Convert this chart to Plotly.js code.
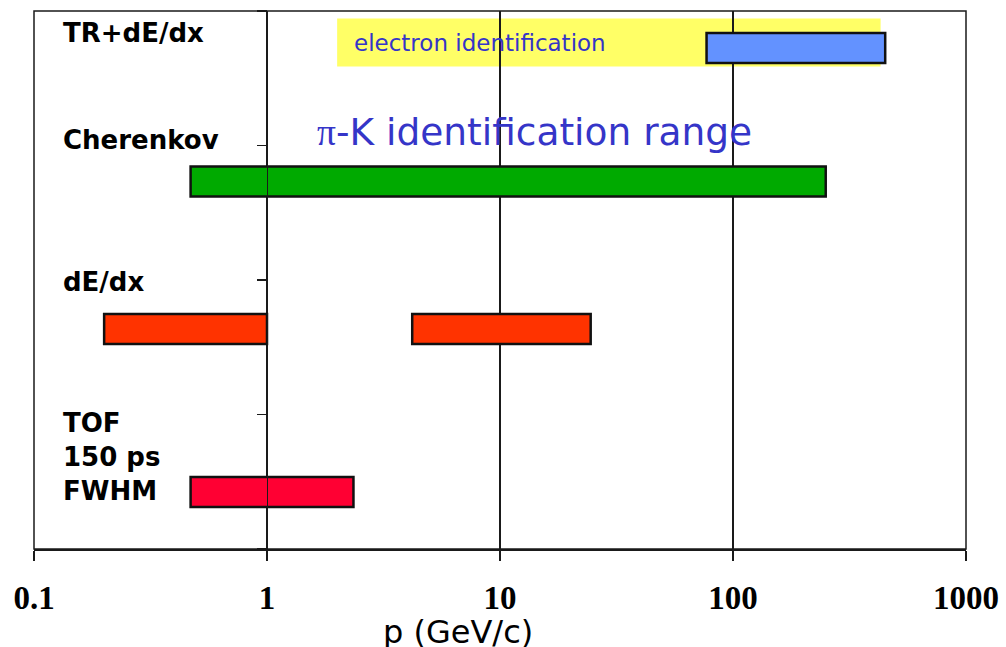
<!DOCTYPE html>
<html>
<head>
<meta charset="utf-8">
<script src="https://cdn.plot.ly/plotly-3.0.1.min.js"></script>
<style>html,body{margin:0;padding:0;background:#fff;}#chart{width:1006px;height:647px;}</style>
</head>
<body>
<div id="chart"></div>
<script>
// ---- data (momentum ranges in GeV/c) ----
const detectors = ["TR+dE/dx", "Cherenkov", "dE/dx", "dE/dx", "TOF"];
const rangeStart = [77, 0.47, 0.2, 4.2, 0.47];
const rangeEnd   = [450, 250, 1.0, 24.5, 2.35];
const electronIdRange = [2, 430];
const xTickVals  = [0.1, 1, 10, 100, 1000];
const xTickText  = ["0.1", "1", "10", "100", "1000"];
const rowLabels  = ["TR+dE/dx", "Cherenkov", "dE/dx", "TOF<br>150 ps<br>FWHM"];

// ---- layout / style config ----
const rowY = {"TR+dE/dx": 3.725, "Cherenkov": 2.732, "dE/dx": 1.636, "TOF": 0.424};
const barColors = ["#6392ff", "#00aa00", "#ff3300", "#ff3300", "#ff0033"];
const labelY = [0.959, 0.760, 0.496, 0.171];
const blue = "#3535c8";
const axisCol = "#1a1a1a";

const traces = detectors.map((d, i) => ({
  type: "bar",
  orientation: "h",
  y: [rowY[d]],
  base: [rangeStart[i]],
  x: [rangeEnd[i] - rangeStart[i]],
  width: 0.222,
  marker: {color: barColors[i], line: {color: "#111", width: 2.5}},
  hoverinfo: "skip",
  showlegend: false
}));

const annotations = rowLabels.map((t, i) => ({
  xref: "paper", yref: "paper", x: 0.0285, y: labelY[i],
  xanchor: "left", yanchor: "middle", align: "left",
  text: t, showarrow: false,
  font: {family: "DejaVu Sans", size: 26, color: "#000", weight: "bold"}
}));
annotations.push({
  xref: "paper", yref: "paper", x: 0.302, y: 0.776, xanchor: "left", yanchor: "middle",
  text: '<span style="font-family:\'Liberation Serif\'">π</span>-K identification range',
  showarrow: false, font: {family: "DejaVu Sans", size: 37.5, color: blue}
});
annotations.push({
  xref: "paper", yref: "paper", x: 0.341, y: 0.9405, xanchor: "left", yanchor: "middle",
  text: "electron identification", showarrow: false,
  font: {family: "DejaVu Sans", size: 23, color: blue}
});
annotations.push({
  xref: "paper", yref: "paper", x: 0.455, y: -0.155, xanchor: "center", yanchor: "middle",
  text: "p (GeV/c)", showarrow: false,
  font: {family: "DejaVu Sans", size: 32, color: "#000"}
});

const layout = {
  width: 1006, height: 647,
  margin: {l: 33.5, r: 39.5, t: 11, b: 98, pad: 0},
  paper_bgcolor: "#fff", plot_bgcolor: "#fff",
  barmode: "overlay",
  xaxis: {
    type: "log", range: [-1, 3],
    tickvals: xTickVals, ticktext: xTickText,
    ticks: "outside", ticklen: 10, tickwidth: 1.5, tickcolor: axisCol,
    showline: true, linecolor: axisCol, linewidth: 1.5,
    showgrid: true, gridcolor: axisCol, gridwidth: 1.2,
    zeroline: false,
    tickfont: {family: "Liberation Serif", size: 33, color: "#000", weight: "bold"},
    ticklabelstandoff: 9,
    fixedrange: true
  },
  yaxis: {
    range: [0, 4], tickvals: [0, 1, 2, 3, 4],
    showticklabels: false,
    ticks: "outside", ticklen: 10, tickwidth: 1.5, tickcolor: axisCol,
    showline: true, linecolor: axisCol, linewidth: 1.2,
    showgrid: false, zeroline: false,
    anchor: "free", position: 0.25,
    fixedrange: true
  },
  shapes: [
    {type: "rect", xref: "x", yref: "paper",
     x0: electronIdRange[0], x1: electronIdRange[1], y0: 0.897, y1: 0.986,
     fillcolor: "#ffff66", line: {width: 0}, layer: "below"},
    {type: "rect", xref: "paper", yref: "paper", x0: 0, x1: 1, y0: 0, y1: 1,
     line: {color: axisCol, width: 1.5}, layer: "above"}
  ],
  annotations: annotations,
  showlegend: false
};

Plotly.newPlot("chart", traces, layout, {displayModeBar: false, staticPlot: true});
</script>
</body>
</html>
